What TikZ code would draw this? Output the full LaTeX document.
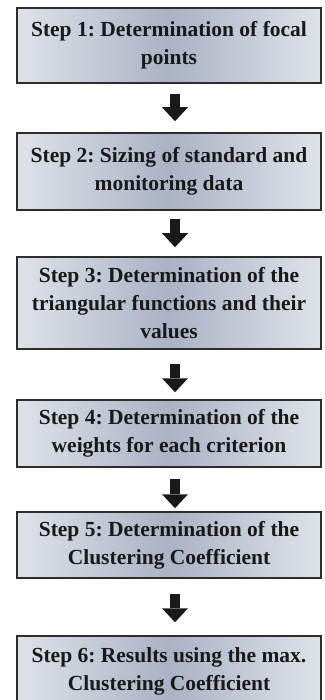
\documentclass[tikz,border=0pt]{standalone}
\usepackage{fontspec}
\setmainfont{Liberation Serif}
\frenchspacing
\usetikzlibrary{arrows.meta}
\definecolor{edgeshade}{RGB}{223,226,233}
\definecolor{midshade}{RGB}{170,178,196}
\definecolor{boxline}{RGB}{45,45,45}
\definecolor{txt}{RGB}{25,25,25}
\tikzset{
  stepbox/.style={draw=boxline, line width=1.5pt, rectangle,
    left color=edgeshade, right color=edgeshade, middle color=midshade,
    minimum width=304pt, inner sep=0pt, align=center, text=txt,
    font=\fontsize{21.5pt}{28pt}\selectfont\bfseries},
  blockarrow/.style={line width=10pt, black!90,
    -{Triangle[width=26pt,length=14pt,line width=0pt]}}
}
\begin{document}
\begin{tikzpicture}[x=1pt,y=-1pt]
\useasboundingbox (0,0) rectangle (324,700);
\node[stepbox, minimum height=75pt] (b1) at (169,45.5) {Step 1: Determination of focal\\points};
\node[stepbox, minimum height=77pt] (b2) at (169,171.5) {Step 2: Sizing of standard and\\monitoring data};
\node[stepbox, minimum height=92pt] (b3) at (169,303) {Step 3: Determination of the\\triangular functions and their\\values};
\node[stepbox, minimum height=67pt] (b4) at (169,433.5) {Step 4: Determination of the\\weights for each criterion};
\node[stepbox, minimum height=66pt] (b5) at (169,545) {Step 5: Determination of the\\Clustering Coefficient};
\node[stepbox, minimum height=70pt] (b6) at (169,671) {Step 6: Results using the max.\\Clustering Coefficient};
\draw[blockarrow, shorten <=10pt, shorten >=11pt] ([xshift=6pt]b1.south) -- ([xshift=6pt]b2.north);
\draw[blockarrow, shorten <=8pt, shorten >=9pt] ([xshift=6pt]b2.south) -- ([xshift=6pt]b3.north);
\draw[blockarrow, shorten <=14pt, shorten >=7pt] ([xshift=6pt]b3.south) -- ([xshift=6pt]b4.north);
\draw[blockarrow, shorten <=11pt, shorten >=3pt] ([xshift=6pt]b4.south) -- ([xshift=6pt]b5.north);
\draw[blockarrow, shorten <=15pt, shorten >=13pt] ([xshift=6pt]b5.south) -- ([xshift=6pt]b6.north);
\end{tikzpicture}
\end{document}
